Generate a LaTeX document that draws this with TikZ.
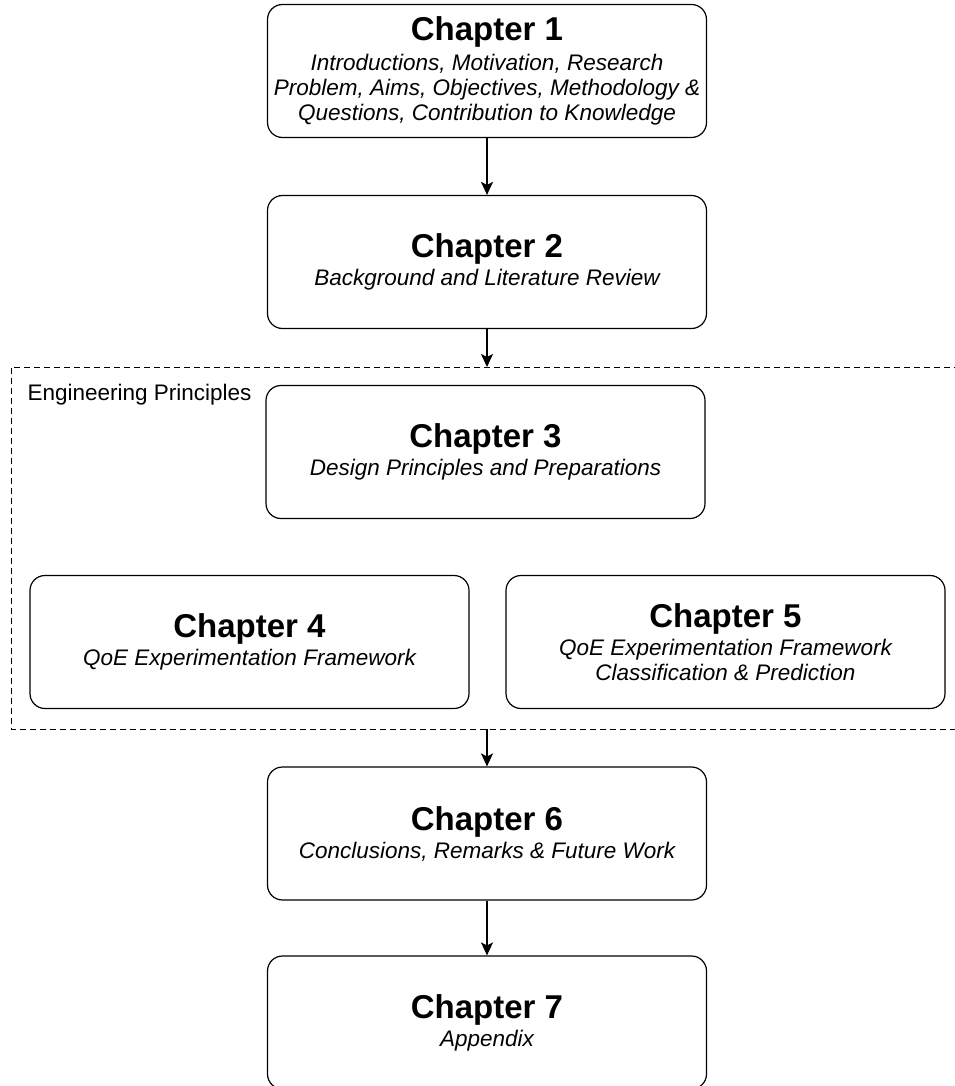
\documentclass[tikz,border=0pt]{standalone}
\usepackage{fontspec}
\setmainfont{Liberation Sans}
\usepackage{tikz}
\usetikzlibrary{arrows.meta}

\newcommand{\chaptitle}[1]{{\fontsize{33}{36}\selectfont\upshape\bfseries #1}}

\begin{document}
\begin{tikzpicture}[
    x=1pt, y=-1pt,
    chapbox/.style={draw=black, rounded corners=15pt, line width=1.2pt, minimum width=439pt, minimum height=133pt, align=center, inner sep=0pt, font=\fontsize{22.5}{25}\selectfont\itshape},
    flowarrow/.style={-{Stealth[length=13pt, width=12pt, inset=3pt]}, line width=1.2pt},
    groupframe/.style={dash pattern=on 6pt off 4pt, line width=1pt},
]
\useasboundingbox (0,0) rectangle (954,1086);

% ============================================================
% CHAPTERS
% ============================================================
\node[chapbox] (ch1) at (487,71) {\chaptitle{Chapter 1}\\[5pt]
    Introductions, Motivation, Research\\
    Problem, Aims, Objectives, Methodology \&\\
    Questions, Contribution to Knowledge};
\node[chapbox] (ch2) at (487,262) {\chaptitle{Chapter 2}\\[3pt]
    Background and Literature Review};
\node[chapbox] (ch3) at (485.5,452) {\chaptitle{Chapter 3}\\[3pt]
    Design Principles and Preparations};
\node[chapbox] (ch4) at (249.5,642) {\chaptitle{Chapter 4}\\[3pt]
    QoE Experimentation Framework};
\node[chapbox] (ch5) at (725.5,642) {\chaptitle{Chapter 5}\\[3pt]
    QoE Experimentation Framework\\
    Classification \& Prediction};
\node[chapbox] (ch6) at (487,833.5) {\chaptitle{Chapter 6}\\[3pt]
    Conclusions, Remarks \& Future Work};
\node[chapbox] (ch7) at (487,1022.5) {\chaptitle{Chapter 7}\\[3pt]
    Appendix};

% ============================================================
% ENGINEERING PRINCIPLES GROUP
% ============================================================
\draw[groupframe] (960,367) -| (11,729) -- (960,729);
\node[anchor=base west, font=\fontsize{22.5}{25}\selectfont] (grplabel) at (24,400) {Engineering Principles};
\coordinate (grptop) at (487,367);
\coordinate (grpbot) at (487,729);

% Arrows
\draw[flowarrow] (ch1.south) -- (ch2.north);
\draw[flowarrow] (ch2.south) -- (grptop);
\draw[flowarrow] (grpbot) -- (ch6.north);
\draw[flowarrow] (ch6.south) -- (ch7.north);

\end{tikzpicture}
\end{document}
